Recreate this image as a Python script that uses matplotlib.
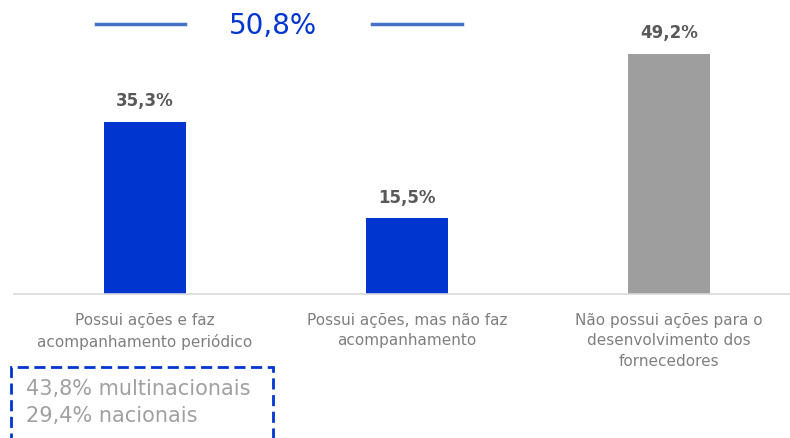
import matplotlib.pyplot as plt
from matplotlib.patches import Rectangle
from matplotlib.lines import Line2D

categories = ['Possui ações e faz\nacompanhamento periódico',
              'Possui ações, mas não faz\nacompanhamento',
              'Não possui ações para o\ndesenvolvimento dos\nfornecedores']
values = [35.3, 15.5, 49.2]
value_labels = ['35,3%', '15,5%', '49,2%']
bar_colors = ['#0036cf', '#0036cf', '#9e9e9e']
total_label = '50,8%'
box_lines = ['43,8% multinacionais', '29,4% nacionais']

fig = plt.figure(figsize=(7.9, 4.39), dpi=100)
ax = fig.add_axes([14 / 790, 144 / 439, 786 / 790, 295 / 439])

x = range(len(categories))
ax.bar(x, values, width=0.313, color=bar_colors)
for i, (v, lab) in enumerate(zip(values, value_labels)):
    ax.text(i, v + 2.6, lab, ha='center', va='bottom', fontsize=12,
            fontweight='bold', color='#595959')

ax.set_xlim(-0.5, 2.5)
ax.set_ylim(0, 60.4)
ax.set_xticks(list(x))
ax.set_xticklabels(categories, fontsize=11, color='#7f7f7f', linespacing=1.45)
ax.tick_params(axis='x', length=0, pad=13)
ax.set_yticks([])
for s in ['top', 'right', 'left']:
    ax.spines[s].set_visible(False)
ax.spines['bottom'].set_color('#d9d9d9')
ax.spines['bottom'].set_linewidth(1.2)

# bracket over the first two bars
fig.add_artist(Line2D([96 / 790, 185 / 790], [1 - 25 / 439] * 2,
                      color='#4472c4', lw=2.5))
fig.add_artist(Line2D([372 / 790, 462 / 790], [1 - 25 / 439] * 2,
                      color='#4472c4', lw=2.5))
fig.text(273 / 790, 1 - 26 / 439, total_label, ha='center', va='center',
         fontsize=20, color='#0036cf')

# dashed box bottom-left
fig.add_artist(Rectangle((11 / 790, -0.05), 262 / 790, (439 - 368) / 439 + 0.05,
                         fill=False, edgecolor='#0036cf', lw=2,
                         linestyle=(0, (4, 2))))
fig.text(26 / 790, 1 - 389 / 439, box_lines[0], ha='left', va='center',
         fontsize=15, color='#a0a0a0')
fig.text(26 / 790, 1 - 416 / 439, box_lines[1], ha='left', va='center',
         fontsize=15, color='#a0a0a0')

fig.savefig('out.png', dpi=100)
